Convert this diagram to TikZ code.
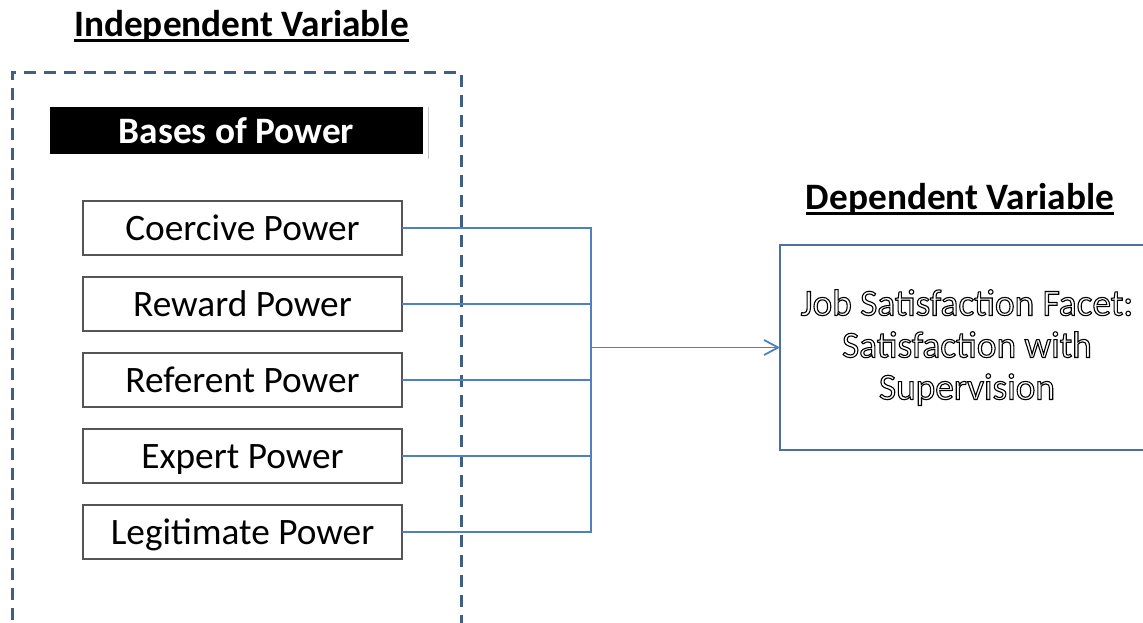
\documentclass[tikz,border=0pt]{standalone}
\usepackage{fontspec}
\setmainfont{Carlito}
\usepackage{tikz}
\usetikzlibrary{arrows.meta,positioning,shadows}
\definecolor{dashc}{HTML}{3E5F8A}
\definecolor{linkc}{HTML}{4F81BD}
\definecolor{depc}{HTML}{4F6FA0}
\definecolor{boxc}{HTML}{555555}
\newcommand{\undl}[1]{\setbox0\hbox{#1}\rlap{\vrule height -2.5pt depth 5.5pt width \wd0}\box0}
\newcommand{\outl}[1]{\special{pdf:literal direct 0 0 0 RG 1 Tr 1.1 w}#1\special{pdf:literal direct 0 Tr}}
\tikzset{
  ttl/.style={font=\fontsize{37.3}{44}\selectfont\bfseries,inner sep=0pt,anchor=base},
  pbox/.style={draw=boxc,line width=1.6pt,outer sep=0pt,minimum width=319pt,minimum height=54pt,
    inner sep=0pt,text height=31pt,text depth=6pt,font=\fontsize{37.3}{44}\selectfont},
  hdr/.style={fill=black,draw=white,line width=5pt,outer sep=0pt,minimum width=378pt,minimum height=52pt,
    inner sep=0pt,text height=31pt,text depth=6pt,text=white,font=\fontsize{37.3}{44}\selectfont\bfseries,
    drop shadow={shadow xshift=0.5pt,shadow yshift=-2.5pt,shadow scale=1.015,opacity=0.45}},
  dep/.style={draw=depc,line width=1.6pt,outer sep=0pt,minimum width=374pt,minimum height=205pt,
    align=center,font=\fontsize{37.3}{42}\selectfont},
  link/.style={linkc,line width=1.5pt},
  ar/.style={-{Straight Barb[length=14pt,width=15pt]},linkc,line width=1.8pt},
  dashbox/.style={dashc,line width=3pt,dash pattern=on 12pt off 8pt}
}
\begin{document}
\begin{tikzpicture}[x=1pt,y=-1pt]
\useasboundingbox (0,0) rectangle (1143,622);
\clip (0,0) rectangle (1143,622);
\draw[dashbox] (12,640) -- (12,72) -- (461,72) -- (461,640);
\node[ttl] (ivt) at (241.5,36.5) {\undl{Independent Variable}};
\node[ttl] (dvt) at (960,209) {\undl{Dependent Variable}};
\node[hdr] (bases) at (236.5,130.5) {Bases of Power};
\node[pbox] (coe) at (242.5,228) {Coercive Power};
\node[pbox,below=22pt of coe] (rew) {Reward Power};
\node[pbox,below=22pt of rew] (ref) {Referent Power};
\node[pbox,below=22pt of ref] (exp) {Expert Power};
\node[pbox,below=22pt of exp] (leg) {Legitimate Power};
\node[dep] (jss) at (967,347.5) {\outl{Job Satisfaction Facet:}\\\outl{Satisfaction with}\\\outl{Supervision}};
\coordinate (hub) at (591,347.5);
\foreach \b in {coe,rew,ref,exp,leg}
  \draw[link] (\b.east) -| (hub);
\draw[ar] (hub) -- (jss.west);
\end{tikzpicture}
\end{document}
